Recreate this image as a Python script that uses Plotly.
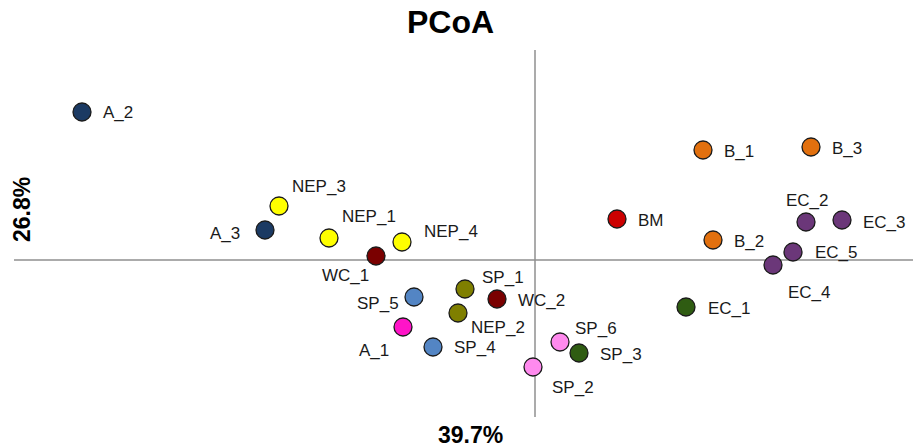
import plotly.graph_objects as go

# ---- data ----
samples = ["A_2", "A_3", "NEP_3", "NEP_1", "NEP_4", "WC_1", "SP_1", "WC_2",
           "SP_5", "NEP_2", "A_1", "SP_4", "SP_6", "SP_3", "SP_2", "BM",
           "B_1", "B_3", "B_2", "EC_2", "EC_3", "EC_5", "EC_4", "EC_1"]
pc1 = [-0.453, -0.270, -0.256, -0.206, -0.133, -0.159, -0.070, -0.038,
       -0.121, -0.077, -0.132, -0.102, 0.025, 0.044, -0.002, 0.082,
       0.168, 0.276, 0.178, 0.271, 0.307, 0.258, 0.238, 0.151]
pc2 = [0.148, 0.030, 0.054, 0.022, 0.018, 0.004, -0.029, -0.039,
       -0.037, -0.053, -0.067, -0.087, -0.082, -0.093, -0.107, 0.041,
       0.110, 0.113, 0.020, 0.038, 0.040, 0.008, -0.005, -0.047]
x_label = "39.7%"
y_label = "26.8%"
title = "PCoA"

# ---- styles ----
NAVY, YEL, DRED, OLIVE = "#1B3A63", "#FFFF00", "#7A0000", "#7F7F00"
SBLUE, MAG, PINK, DGRN = "#5385C4", "#FF14C8", "#FF8AEE", "#2F5C12"
RED, ORG, PUR = "#CC0000", "#E2700E", "#6B3779"
colors = [NAVY, NAVY, YEL, YEL, YEL, DRED, OLIVE, DRED,
          SBLUE, OLIVE, MAG, SBLUE, PINK, DGRN, PINK, RED,
          ORG, ORG, ORG, PUR, PUR, PUR, PUR, DGRN]
# label placement: (xanchor, xshift px, yshift px)
label_pos = {
    "A_2": ("left", 19, 0), "A_3": ("right", -23, -3), "NEP_3": ("left", 11, 20),
    "NEP_1": ("left", 11, 22), "NEP_4": ("left", 20, 11), "WC_1": ("right", -5, -19),
    "SP_1": ("left", 15, 12), "WC_2": ("left", 19, -1), "SP_5": ("right", -13, -6),
    "NEP_2": ("left", 11, -14), "A_1": ("right", -12, -23), "SP_4": ("left", 19, 0),
    "SP_6": ("left", 13, 14), "SP_3": ("left", 19, -1), "SP_2": ("left", 17, -20),
    "BM": ("left", 19, -1), "B_1": ("left", 19, -1), "B_3": ("left", 19, -1),
    "B_2": ("left", 19, -1), "EC_2": ("center", 1, 22), "EC_3": ("left", 19, -2),
    "EC_5": ("left", 20, 0), "EC_4": ("left", 13, -27), "EC_1": ("left", 20, -1),
}

FONT = "Liberation Sans, Arial, Helvetica, sans-serif"

fig = go.Figure()
fig.add_trace(go.Scatter(
    x=pc1, y=pc2, mode="markers", text=samples, hoverinfo="text",
    marker=dict(size=18, color=colors, line=dict(color="#1a1a1a", width=1.3)),
    showlegend=False,
))

X0, X1 = -0.535, 0.378
Y0, Y1 = -0.187, 0.260

# crossing axis lines
fig.add_shape(type="line", x0=-0.521, x1=X1, y0=0, y1=0,
              line=dict(color="#8f8f8f", width=1.5), layer="below")
fig.add_shape(type="line", x0=0, x1=0, y0=-0.157, y1=0.210,
              line=dict(color="#8f8f8f", width=1.5), layer="below")

ann = []
for s, xv, yv in zip(samples, pc1, pc2):
    xa, xs, ys = label_pos[s]
    ann.append(dict(x=xv, y=yv, text=s, showarrow=False, xanchor=xa,
                    yanchor="middle", xshift=xs, yshift=ys,
                    font=dict(size=17, color="#1a1a1a", family=FONT)))
ann.append(dict(x=450 / 913, y=1 - 22 / 447, xref="paper", yref="paper",
                xanchor="center", yanchor="middle",
                text="<b>%s</b>" % title, showarrow=False,
                font=dict(size=32, color="black", family=FONT)))
ann.append(dict(x=470 / 913, y=1 - 435 / 447, xref="paper", yref="paper",
                xanchor="center", yanchor="middle",
                text="<b>%s</b>" % x_label, showarrow=False,
                font=dict(size=23, color="black", family=FONT)))
ann.append(dict(x=22 / 913, y=1 - 210 / 447, xref="paper", yref="paper",
                xanchor="center", yanchor="middle",
                text="<b>%s</b>" % y_label, showarrow=False, textangle=-90,
                font=dict(size=23, color="black", family=FONT)))

fig.update_layout(
    width=913, height=447,
    margin=dict(l=0, r=0, t=0, b=0),
    paper_bgcolor="white", plot_bgcolor="white",
    xaxis=dict(range=[X0, X1], visible=False, fixedrange=True),
    yaxis=dict(range=[Y0, Y1], visible=False, fixedrange=True),
    annotations=ann,
)

fig.write_html("out.html", config={"displayModeBar": False},
               post_script="document.body.style.margin='0px';document.body.style.overflow='hidden';")
